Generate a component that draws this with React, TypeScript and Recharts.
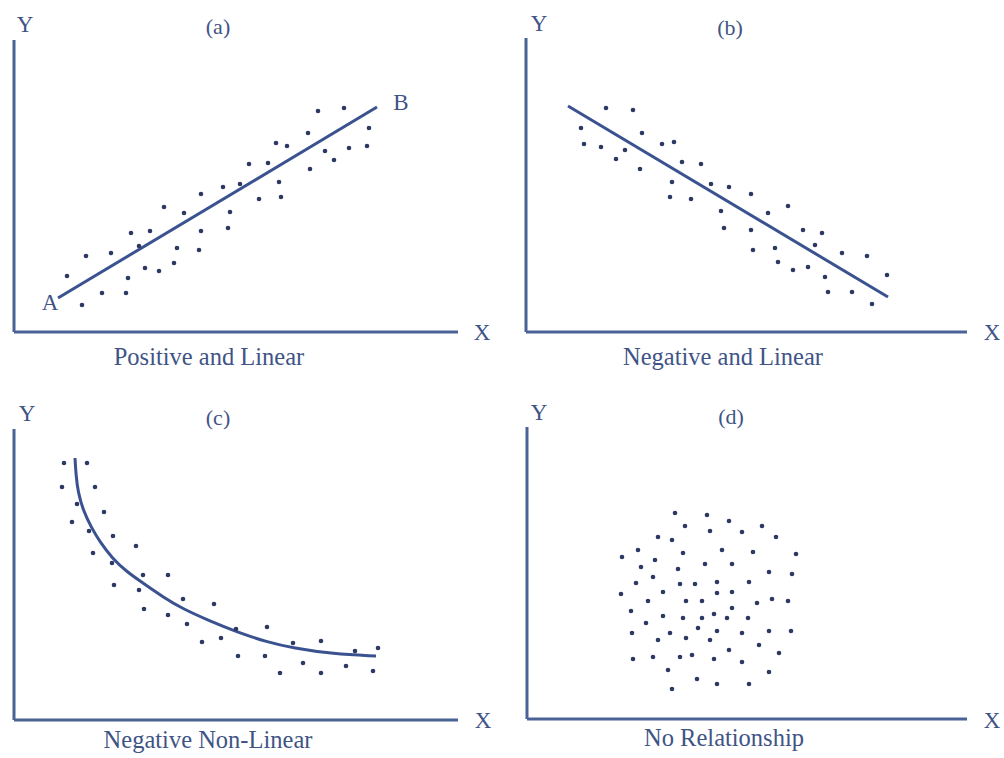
import { ComposedChart, Scatter, Line, XAxis, YAxis } from "recharts";

type Pt = { x: number; y: number };

// every value is measured from the corner where the two axes of its panel meet

const dotsA: Pt[] = [
  { x: 53, y: 56 }, { x: 72, y: 76 }, { x: 68, y: 27 }, { x: 88, y: 39 }, { x: 97, y: 79 },
  { x: 112, y: 39 }, { x: 114, y: 54 }, { x: 117, y: 99 }, { x: 125, y: 86 }, { x: 131, y: 64 },
  { x: 136, y: 101 }, { x: 145, y: 61 }, { x: 150, y: 125 }, { x: 160, y: 69 }, { x: 163, y: 84 },
  { x: 170, y: 119 }, { x: 185, y: 82 }, { x: 187, y: 101 }, { x: 187, y: 138 }, { x: 209, y: 145 },
  { x: 214, y: 104 }, { x: 216, y: 120 }, { x: 226, y: 148 }, { x: 235, y: 168 }, { x: 245, y: 133 },
  { x: 254, y: 169 }, { x: 262, y: 189 }, { x: 265, y: 150 }, { x: 267, y: 135 }, { x: 273, y: 186 },
  { x: 294, y: 199 }, { x: 296, y: 163 }, { x: 304, y: 221 }, { x: 311, y: 181 }, { x: 320, y: 172 },
  { x: 330, y: 224 }, { x: 335, y: 184 }, { x: 353, y: 186 }, { x: 355, y: 204 },
];
const lineA: Pt[] = [{ x: 44, y: 34 }, { x: 363, y: 225 }];

const dotsB: Pt[] = [
  { x: 55, y: 204 }, { x: 58, y: 188 }, { x: 80, y: 224 }, { x: 75, y: 185 }, { x: 90, y: 173 },
  { x: 99, y: 182 }, { x: 107, y: 222 }, { x: 116, y: 199 }, { x: 114, y: 163 }, { x: 136, y: 188 },
  { x: 148, y: 190 }, { x: 156, y: 170 }, { x: 146, y: 150 }, { x: 144, y: 135 }, { x: 165, y: 133 },
  { x: 175, y: 168 }, { x: 185, y: 148 }, { x: 203, y: 145 }, { x: 195, y: 121 }, { x: 198, y: 104 },
  { x: 225, y: 138 }, { x: 225, y: 102 }, { x: 227, y: 82 }, { x: 242, y: 119 }, { x: 249, y: 84 },
  { x: 252, y: 70 }, { x: 262, y: 126 }, { x: 267, y: 62 }, { x: 277, y: 102 }, { x: 282, y: 65 },
  { x: 289, y: 87 }, { x: 296, y: 99 }, { x: 299, y: 55 }, { x: 302, y: 40 }, { x: 316, y: 79 },
  { x: 326, y: 40 }, { x: 341, y: 76 }, { x: 346, y: 28 }, { x: 361, y: 57 },
];
const lineB: Pt[] = [{ x: 42, y: 226 }, { x: 362, y: 35 }];

const dotsC: Pt[] = [
  { x: 50, y: 257 }, { x: 73, y: 257 }, { x: 48, y: 233 }, { x: 81, y: 233 }, { x: 63, y: 216 },
  { x: 90, y: 208 }, { x: 58, y: 198 }, { x: 75, y: 189 }, { x: 99, y: 184 }, { x: 79, y: 167 },
  { x: 122, y: 174 }, { x: 98, y: 157 }, { x: 129, y: 145 }, { x: 154, y: 145 }, { x: 100, y: 135 },
  { x: 125, y: 130 }, { x: 169, y: 121 }, { x: 130, y: 111 }, { x: 200, y: 116 }, { x: 154, y: 105 },
  { x: 173, y: 96 }, { x: 222, y: 91 }, { x: 253, y: 93 }, { x: 188, y: 78 }, { x: 207, y: 82 },
  { x: 279, y: 77 }, { x: 307, y: 79 }, { x: 224, y: 64 }, { x: 251, y: 64 }, { x: 289, y: 57 },
  { x: 341, y: 69 }, { x: 364, y: 72 }, { x: 266, y: 47 }, { x: 307, y: 47 }, { x: 332, y: 54 },
  { x: 359, y: 49 },
];
const curveC: Pt[] = [
  { x: 61, y: 262 }, { x: 62, y: 245 }, { x: 64, y: 228 }, { x: 69, y: 210 }, { x: 77, y: 193 },
  { x: 86, y: 178 }, { x: 98, y: 162 }, { x: 113, y: 148 }, { x: 129, y: 137 }, { x: 149, y: 123 },
  { x: 169, y: 111 }, { x: 196, y: 99 }, { x: 223, y: 88 }, { x: 253, y: 78 }, { x: 279, y: 72 },
  { x: 319, y: 66 }, { x: 362, y: 64 },
];

const dotsD: Pt[] = [
  { x: 148, y: 206 }, { x: 180, y: 204 }, { x: 158, y: 193 }, { x: 202, y: 198 }, { x: 183, y: 188 },
  { x: 235, y: 193 }, { x: 215, y: 187 }, { x: 131, y: 182 }, { x: 145, y: 179 }, { x: 249, y: 182 },
  { x: 111, y: 169 }, { x: 156, y: 166 }, { x: 195, y: 169 }, { x: 226, y: 167 }, { x: 95, y: 162 },
  { x: 128, y: 159 }, { x: 269, y: 165 }, { x: 114, y: 152 }, { x: 178, y: 155 }, { x: 205, y: 155 },
  { x: 151, y: 150 }, { x: 242, y: 147 }, { x: 265, y: 145 }, { x: 126, y: 142 }, { x: 190, y: 137 },
  { x: 222, y: 137 }, { x: 109, y: 136 }, { x: 153, y: 135 }, { x: 168, y: 135 }, { x: 136, y: 127 },
  { x: 190, y: 126 }, { x: 205, y: 127 }, { x: 94, y: 125 }, { x: 121, y: 118 }, { x: 159, y: 118 },
  { x: 175, y: 118 }, { x: 230, y: 116 }, { x: 245, y: 120 }, { x: 261, y: 118 }, { x: 205, y: 111 },
  { x: 104, y: 108 }, { x: 136, y: 103 }, { x: 156, y: 101 }, { x: 175, y: 101 }, { x: 187, y: 105 },
  { x: 200, y: 101 }, { x: 221, y: 101 }, { x: 119, y: 96 }, { x: 171, y: 91 }, { x: 190, y: 88 },
  { x: 143, y: 86 }, { x: 105, y: 86 }, { x: 215, y: 86 }, { x: 242, y: 88 }, { x: 264, y: 88 },
  { x: 159, y: 81 }, { x: 131, y: 79 }, { x: 183, y: 79 }, { x: 232, y: 74 }, { x: 202, y: 69 },
  { x: 252, y: 66 }, { x: 106, y: 60 }, { x: 126, y: 62 }, { x: 153, y: 62 }, { x: 165, y: 64 },
  { x: 187, y: 60 }, { x: 215, y: 57 }, { x: 141, y: 49 }, { x: 242, y: 47 }, { x: 170, y: 40 },
  { x: 190, y: 35 }, { x: 222, y: 35 }, { x: 145, y: 30 },
];

const panelTitles = ["(a)", "(b)", "(c)", "(d)"];
const captions = ["Positive and Linear", "Negative and Linear", "Negative Non-Linear", "No Relationship"];

const INK = "#3f5486";
const AXIS = "#4a6396";
const DOT = "#2c3a63";
const LINE = "#3a5290";
const FONT = '"Liberation Serif", "Times New Roman", serif';
const PAD = 10;

type Panel = {
  ox: number; // axis corner on the page
  oy: number;
  w: number;
  h: number;
  dots: Pt[];
  line?: Pt[];
  curve?: "linear" | "basis";
  texts: { t: string; x: number; y: number; size: number }[];
};

const panels: Panel[] = [
  {
    ox: 14, oy: 332, w: 444, h: 292, dots: dotsA, line: lineA, curve: "linear",
    texts: [
      { t: "Y", x: 25, y: 24, size: 23 },
      { t: panelTitles[0], x: 218, y: 27, size: 22 },
      { t: "X", x: 482, y: 332, size: 23 },
      { t: captions[0], x: 209, y: 357, size: 24.5 },
      { t: "A", x: 50, y: 302, size: 23 },
      { t: "B", x: 401, y: 102, size: 23 },
    ],
  },
  {
    ox: 526, oy: 332, w: 441, h: 294, dots: dotsB, line: lineB, curve: "linear",
    texts: [
      { t: "Y", x: 539, y: 23, size: 23 },
      { t: panelTitles[1], x: 730, y: 28, size: 22 },
      { t: "X", x: 992, y: 332, size: 23 },
      { t: captions[1], x: 723, y: 357, size: 24.5 },
    ],
  },
  {
    ox: 14, oy: 720, w: 444, h: 291, dots: dotsC, line: curveC, curve: "basis",
    texts: [
      { t: "Y", x: 27, y: 413, size: 23 },
      { t: panelTitles[2], x: 218, y: 418, size: 22 },
      { t: "X", x: 483, y: 720, size: 23 },
      { t: captions[2], x: 208, y: 740, size: 24.5 },
    ],
  },
  {
    ox: 527, oy: 719, w: 440, h: 292, dots: dotsD,
    texts: [
      { t: "Y", x: 539, y: 412, size: 23 },
      { t: panelTitles[3], x: 731, y: 417, size: 22 },
      { t: "X", x: 992, y: 720, size: 23 },
      { t: captions[3], x: 724, y: 738, size: 24.5 },
    ],
  },
];

const Dot = (props: any) => <circle cx={props.cx} cy={props.cy} r={2.3} fill={DOT} />;

const PanelChart = ({ p }: { p: Panel }) => (
  <div style={{ position: "absolute", left: p.ox - PAD, top: p.oy - p.h - PAD }}>
    <ComposedChart
      width={p.w + PAD * 2}
      height={p.h + PAD * 2}
      margin={{ top: PAD, right: PAD, bottom: PAD - 1, left: PAD - 1 }}
    >
      <XAxis
        type="number"
        dataKey="x"
        domain={[0, p.w]}
        height={1}
        tick={false}
        tickLine={false}
        axisLine={{ stroke: AXIS, strokeWidth: 3 }}
      />
      <YAxis
        type="number"
        dataKey="y"
        domain={[0, p.h]}
        width={1}
        tick={false}
        tickLine={false}
        axisLine={{ stroke: AXIS, strokeWidth: 3 }}
      />
      {p.line && (
        <Line
          data={p.line}
          dataKey="y"
          type={p.curve}
          stroke={LINE}
          strokeWidth={3}
          dot={false}
          activeDot={false}
          isAnimationActive={false}
        />
      )}
      <Scatter data={p.dots} shape={Dot} isAnimationActive={false} />
    </ComposedChart>
  </div>
);

export default function App() {
  return (
    <div
      style={{
        position: "absolute",
        left: 0,
        top: 0,
        width: 1004,
        height: 758,
        background: "#fff",
        fontFamily: FONT,
        color: INK,
      }}
    >
      {panels.map((p, i) => (
        <div key={i}>
          <PanelChart p={p} />
          {p.texts.map((t) => (
            <span
              key={t.t}
              style={{
                position: "absolute",
                left: t.x,
                top: t.y,
                fontSize: t.size,
                lineHeight: 1,
                whiteSpace: "nowrap",
                transform: "translate(-50%, -50%)",
              }}
            >
              {t.t}
            </span>
          ))}
        </div>
      ))}
    </div>
  );
}
